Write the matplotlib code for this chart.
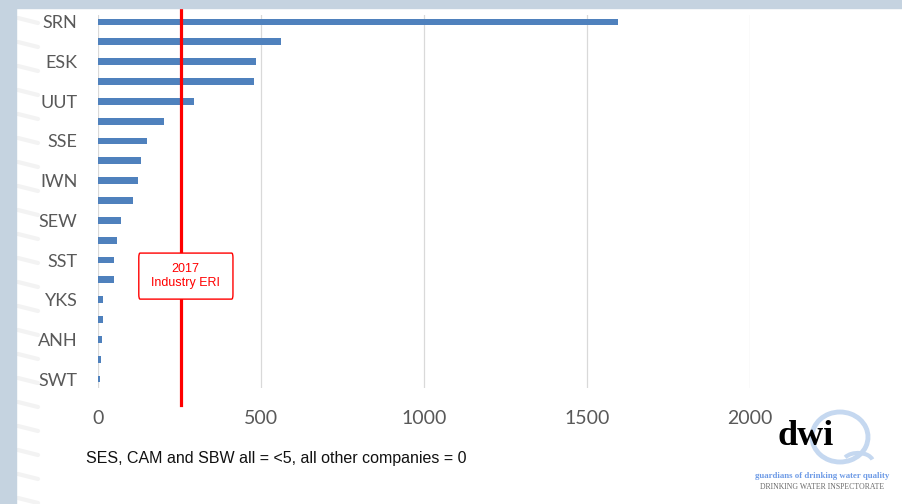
import matplotlib
matplotlib.use("Agg")
import matplotlib.pyplot as plt
from matplotlib.patches import FancyBboxPatch, Rectangle, Arc

# Companies, top to bottom; only every other one is labelled on the axis
labels = ["SRN", "", "ESK", "", "UUT", "", "SSE", "", "IWN", "", "SEW", "",
          "SST", "", "YKS", "", "ANH", "", "SWT"]
values = [1595, 562, 483, 479, 294, 202, 149, 132, 122, 105, 70, 58,
          49, 49, 15, 15, 11, 8, 6]
industry_eri = 252
x_ticks = [0, 500, 1000, 1500, 2000]

BAR = "#4F81BD"
RED = "#FF0000"
GREY_TXT = "#595959"

fig = plt.figure(figsize=(9.02, 5.04), dpi=100)
fig.patch.set_facecolor("white")

# slide frame: blue-grey band across the top and down the left side
fig.patches.append(Rectangle((0, 1 - 8 / 504), 1, 8 / 504, transform=fig.transFigure,
                             color="#C5D3E0", zorder=0))
fig.patches.append(Rectangle((0, 0), 16 / 902, 1, transform=fig.transFigure,
                             color="#C5D3E0", zorder=0))
# faint diagonal streaks next to the band
for yp in range(18, 500, 24):
    fig.add_artist(plt.Line2D([18 / 902, 38 / 902], [1 - yp / 504, 1 - (yp + 5) / 504],
                              transform=fig.transFigure, color="#F3F3F3",
                              linewidth=3, solid_capstyle="round", zorder=0))

ax = fig.add_axes([98.4 / 902, 1 - 388 / 504, (750 - 98.4) / 902, (388 - 15) / 504])
ax.set_facecolor("none")

pos = list(range(len(values)))
ax.barh(pos, values, height=0.34, color=BAR, zorder=2)

ax.set_xlim(0, 2000)
ax.set_ylim(18.45, -0.35)
ax.set_xticks(x_ticks)
ax.set_xticklabels([str(t) for t in x_ticks])
ax.set_yticks(pos)
ax.set_yticklabels(labels)
ax.grid(axis="x", color="#D9D9D9", linewidth=0.9, zorder=0)
ax.tick_params(length=0, labelcolor=GREY_TXT)
ax.tick_params(axis="y", pad=15, labelsize=13)
ax.tick_params(axis="x", pad=16, labelsize=14)
for lbl in ax.get_xticklabels() + ax.get_yticklabels():
    lbl.set_fontfamily("Lato")
for s in ax.spines.values():
    s.set_visible(False)

# industry ERI reference line, running a little past the plot area
ax.plot([industry_eri, industry_eri], [-0.62, 19.3], color=RED, linewidth=2.3,
        clip_on=False, zorder=3)

box = FancyBboxPatch((124, 11.65), 289, 2.32, boxstyle="round,pad=0,rounding_size=4",
                     mutation_aspect=0.06, facecolor="white", edgecolor=RED,
                     linewidth=1.0, zorder=4)
ax.add_patch(box)
ax.text(268, 12.81, "2017\nIndustry ERI", color=RED, fontsize=9, ha="center",
        va="center", family="Liberation Sans", linespacing=1.25, zorder=5)

fig.text(86 / 902, 1 - 459 / 504, "SES, CAM and SBW all = <5, all other companies = 0",
         fontsize=11.5, family="Liberation Sans", color="#111111", va="center")

# dwi logo
lax = fig.add_axes([750 / 902, 0, 152 / 902, 1 - 405 / 504])
lax.set_xlim(750, 902)
lax.set_ylim(504, 405)
lax.axis("off")
lax.add_patch(Arc((840, 437), 56, 50, theta1=0, theta2=360, color="#C5D8F0", linewidth=3.5))
lax.add_patch(Arc((858, 462), 30, 18, theta1=200, theta2=350, color="#C5D8F0", linewidth=3))
lax.text(806, 437, "dwi", fontsize=26, family="Liberation Serif", fontweight="bold",
         color="black", ha="center", va="center")
lax.text(822, 476, "guardians of drinking water quality", fontsize=6.3, family="Liberation Serif",
         fontweight="bold", color="#6E9BE6", ha="center", va="center")
lax.text(822, 487, "DRINKING WATER INSPECTORATE", fontsize=5.6, family="Liberation Serif",
         color="#6A6A6A", ha="center", va="center")

fig.savefig("out.png", dpi=100, facecolor=fig.get_facecolor())
